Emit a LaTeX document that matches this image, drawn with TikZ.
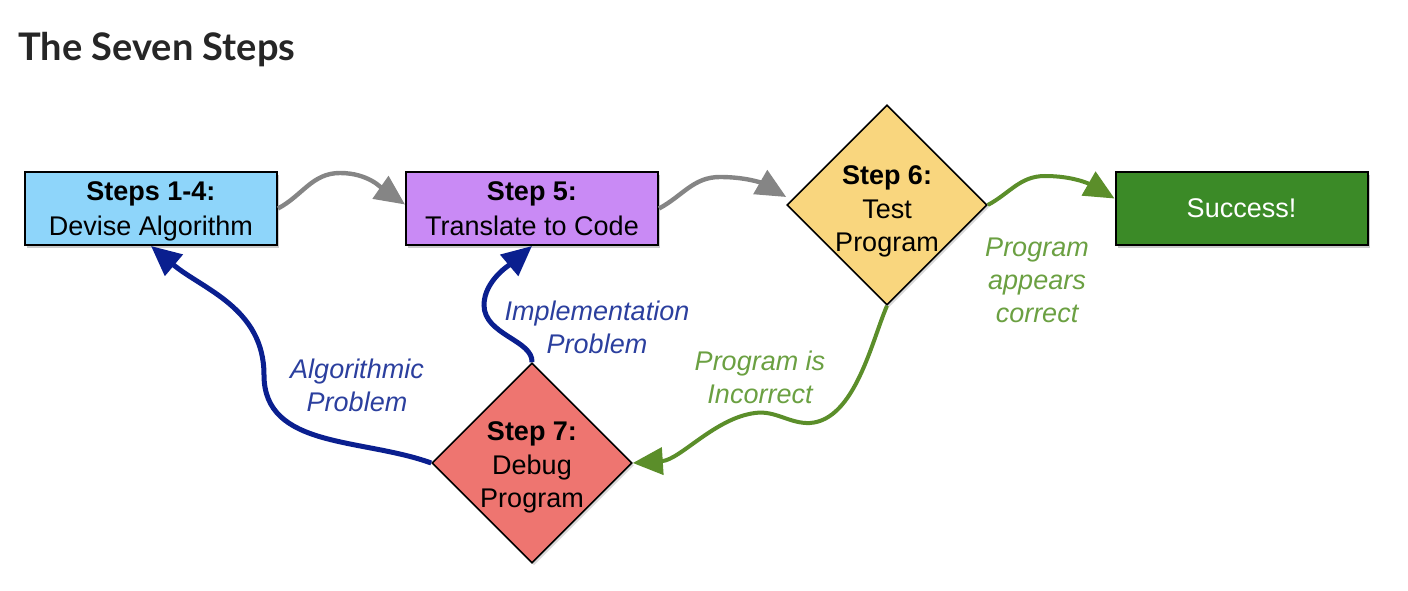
\documentclass[tikz,border=0pt]{standalone}
\usepackage{fontspec}
\setmainfont{Liberation Sans}
\newfontfamily\titlefont{Lato}
\usepackage{xcolor}
\usepackage{tikz}
\usetikzlibrary{arrows.meta,shapes,shadows}

\definecolor{algofill}{HTML}{8ED5FA}
\definecolor{codefill}{HTML}{C98AF5}
\definecolor{testfill}{HTML}{F9D67E}
\definecolor{debugfill}{HTML}{EE7570}
\definecolor{winfill}{HTML}{3B8A27}
\definecolor{flowgray}{HTML}{858585}
\definecolor{fixblue}{HTML}{0A1F8F}
\definecolor{fixlabel}{HTML}{2B3F9E}
\definecolor{okgreen}{HTML}{5B8E2A}
\definecolor{oklabel}{HTML}{6BA042}

\tikzset{
  stepbox/.style={draw=black, line width=1pt, minimum width=126pt, minimum height=36.5pt,
    align=center, inner sep=2pt, text depth=0pt, font=\fontsize{13.5}{17.5}\selectfont,
    drop shadow={shadow xshift=1.2pt, shadow yshift=-1.5pt, opacity=0.4}},
  stepdiamond/.style={diamond, draw=black, line width=0.8pt, minimum width=100pt,
    minimum height=100pt, inner sep=0pt,
    drop shadow={shadow xshift=1pt, shadow yshift=-1.2pt, opacity=0.3}},
  steptext/.style={align=center, font=\fontsize{13.5}{16.75}\selectfont},
  edgelabel/.style={align=center, font=\fontsize{13.5}{16.5}\selectfont\itshape},
  tip/.style={-{Triangle[length=15pt,width=13.5pt]}},
  grayflow/.style={draw=flowgray, line width=2.2pt, tip},
  blueflow/.style={draw=fixblue, line width=2.5pt, tip},
  greenflow/.style={draw=okgreen, line width=2pt, tip},
}

\begin{document}
\begin{tikzpicture}[x=0.5pt, y=0.5pt]
\useasboundingbox (0,0) rectangle (1408,590);

% Title
\node[anchor=base west, inner sep=0pt, text=black!85, font=\titlefont\bfseries\fontsize{19}{23}\selectfont]
  (title) at (18,529) {The Seven Steps};

% Steps
\node[stepbox, fill=algofill] (algo) at (151,381.5) {\textbf{Steps 1-4:}\\Devise Algorithm};
\node[stepbox, fill=codefill] (code) at (532,381.5) {\textbf{Step 5:}\\Translate to Code};
\node[stepbox, fill=winfill, text=white] (win) at (1241.5,381.5) {Success!};

\node[stepdiamond, fill=testfill] (test) at (887,385) {};
\node[steptext] (testtext) at (887,378.5) {\textbf{Step 6:}\\Test\\Program};

\node[stepdiamond, fill=debugfill] (debug) at (532,127) {};
\node[steptext] (debugtext) at (532,122.5) {\textbf{Step 7:}\\Debug\\Program};

% Forward flow
\draw[grayflow] (algo.east) to[out=28,in=180] (340,417) to[out=0,in=145] ([yshift=2pt]code.west);
\draw[grayflow] (code.east) to[out=28,in=180] (720,413) to[out=0,in=150] ([yshift=4pt]test.west);
\draw[greenflow] (test.east) to[out=28,in=180] (1045,414) to[out=0,in=150] ([yshift=5pt]win.west);

% Back to debugging
\draw[greenflow] (test.south) .. controls (872,250) and (855,170) .. (810,167)
  .. controls (790,166) and (775,180) .. (755,177)
  .. controls (715,172) and (680,130) .. (debug.east);
\draw[blueflow] (debug.west) to[out=160,in=-90] (264,215) to[out=90,in=-40] (algo.south);
\draw[blueflow] (debug.north) .. controls (533,250) and (484,255) .. (484,285)
  .. controls (484,310) and (512,327) .. (code.south);

% Labels
\node[edgelabel, text=oklabel] (correct) at (1037,310) {Program\\appears\\correct};
\node[edgelabel, text=oklabel] (wrong) at (760,213) {Program is\\Incorrect};
\node[edgelabel, text=fixlabel] (algobug) at (357,205) {Algorithmic\\Problem};
\node[edgelabel, text=fixlabel] (codebug) at (597,263) {Implementation\\Problem};
\end{tikzpicture}
\end{document}
